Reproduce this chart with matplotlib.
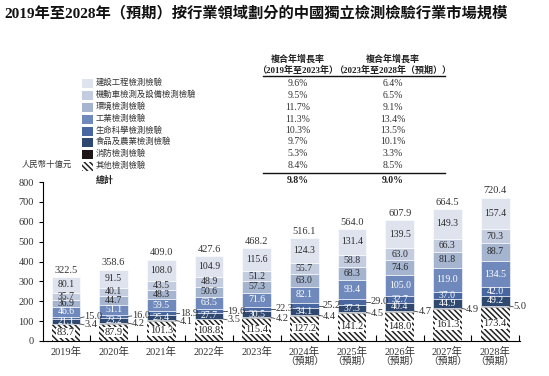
import matplotlib.pyplot as plt
from matplotlib.patches import Rectangle
from matplotlib.lines import Line2D
import numpy as np

plt.rcParams['font.family'] = ['Liberation Serif', 'Noto Sans CJK TC']
plt.rcParams['hatch.linewidth'] = 1.1

# données (milliards de RMB)
years = ['2019年', '2020年', '2021年', '2022年', '2023年',
         '2024年', '2025年', '2026年', '2027年', '2028年']
forecast = [False] * 5 + [True] * 5

other = [83.7, 87.9, 101.3, 108.8, 115.4, 127.2, 141.2, 148.0, 161.3, 173.4]
fire = [3.4, 4.2, 4.1, 3.5, 4.2, 4.4, 4.5, 4.7, 4.9, 5.0]
food = [21.1, 23.2, 25.4, 27.7, 30.5, 34.1, 37.3, 40.4, 44.9, 49.2]
life = [15.0, 16.0, 18.9, 19.6, 22.3, 25.2, 29.0, 32.7, 37.0, 42.0]
industry = [46.6, 51.1, 59.5, 63.5, 71.6, 82.1, 93.4, 105.0, 119.0, 134.5]
environment = [36.9, 44.7, 48.3, 50.6, 57.3, 63.0, 68.3, 74.6, 81.8, 88.7]
vehicle = [35.7, 40.1, 43.5, 48.9, 51.2, 55.7, 58.8, 63.0, 66.3, 70.3]
construction = [80.1, 91.5, 108.0, 104.9, 115.6, 124.3, 131.4, 139.5, 149.3, 157.4]
totals = [322.5, 358.6, 409.0, 427.6, 468.2, 516.1, 564.0, 607.9, 664.5, 720.4]

legend_names = ['建設工程檢測檢驗', '機動車檢測及設備檢測檢驗', '環境檢測檢驗', '工業檢測檢驗',
                '生命科學檢測檢驗', '食品及農業檢測檢驗', '消防檢測檢驗', '其他檢測檢驗']
cagr_hist = ['9.6%', '9.5%', '11.7%', '11.3%', '10.3%', '9.7%', '5.3%', '8.4%']
cagr_fore = ['6.4%', '6.5%', '9.1%', '13.4%', '13.5%', '10.1%', '3.3%', '8.5%']
cagr_total = ['9.8%', '9.0%']

# empilement du bas vers le haut
stack = [other, fire, food, life, industry, environment, vehicle, construction]
colors = ['white', '#1e1616', '#2e4870', '#4867a0', '#7089bd', '#a5b4cf', '#c4cde0', '#dee3ee']
text_col = ['#222222', None, 'white', 'white', 'white', '#2a2a2a', '#2a2a2a', '#2a2a2a']
HATCH = '\\' * 6

W, H = 549, 376
fig = plt.figure(figsize=(W / 100, H / 100), dpi=100)
ax = fig.add_axes([43 / W, 35 / H, 477 / W, 159 / H])

x = np.arange(len(years))
bw = 0.6
bottom = np.zeros(len(years))
inside = [[] for _ in years]   # (y, texte, couleur) des étiquettes intérieures
for k, vals in enumerate(stack):
    vals = np.array(vals)
    if k == 0:
        ax.bar(x, vals, bw, bottom=bottom, color='white', edgecolor='#222222',
               hatch=HATCH, linewidth=0)
    else:
        ax.bar(x, vals, bw, bottom=bottom, color=colors[k], edgecolor='white', linewidth=0.4)
    centers = bottom + vals / 2
    for i in range(len(years)):
        if k == 0:
            ax.text(x[i], centers[i], f'{vals[i]:.1f}', ha='center', va='center', fontsize=7.5,
                    color='#222222', bbox=dict(facecolor='white', edgecolor='none', pad=0.3))
        elif k == 1 or (k == 3 and i < 7):
            pass
        else:
            inside[i].append([centers[i], f'{vals[i]:.1f}', text_col[k]])
    bottom += vals

# écarter un peu les étiquettes trop serrées
gap = 40
for i in range(len(years)):
    labs = inside[i]
    for j in range(1, len(labs)):
        d = labs[j][0] - labs[j - 1][0]
        if d < gap:
            push = (gap - d) / 2
            labs[j][0] += push
            labs[j - 1][0] -= push
    for yv, s, c in labs:
        ax.text(x[i], yv, s, ha='center', va='center', fontsize=7.0, color=c)

# étiquettes extérieures (消防 et 生命科學)
for i in range(len(years)):
    c_fire = other[i] + fire[i] / 2
    y_fire = c_fire - 4
    xr = x[i] + bw / 2
    ax.plot([xr, xr + 0.08], [c_fire, y_fire], color='#444444', lw=0.6)
    ax.text(xr + 0.09, y_fire, f'{fire[i]:.1f}', ha='left', va='center', fontsize=7.5, color='#333333')
    if i < 7:
        c_life = other[i] + fire[i] + food[i] + life[i] / 2
        y_life = max(c_life, y_fire + 40)
        ax.plot([xr, xr + 0.08], [c_life, y_life], color='#444444', lw=0.6)
        ax.text(xr + 0.09, y_life, f'{life[i]:.1f}', ha='left', va='center', fontsize=7.5, color='#333333')

for i, t in enumerate(totals):
    ax.text(x[i], t + 12, f'{t:.1f}', ha='center', va='bottom', fontsize=7.5, color='#333333')

ax.set_xlim(-0.48, 9.52)
ax.set_ylim(0, 800)
ax.set_yticks(range(0, 801, 100))
ax.set_xticks(np.arange(0.5, 10, 1))
ax.set_xticklabels([])
ax.tick_params(axis='x', direction='in', length=4, width=0.8)
ax.tick_params(axis='y', direction='out', length=3, width=0.8, labelsize=7.5, labelcolor='#333333')
for s in ['top', 'right']:
    ax.spines[s].set_visible(False)
for s in ['left', 'bottom']:
    ax.spines[s].set_linewidth(0.8)

for i, y in enumerate(years):
    ax.text(x[i], -30, y, ha='center', va='top', fontsize=7.5, color='#333333')
    if forecast[i]:
        ax.text(x[i], -80, '（預期）', ha='center', va='top', fontsize=7, color='#333333')


def fx(px):
    return px / W


def fy(py):
    return 1 - py / H


fig.text(fx(4), fy(13), '2019年至2028年（預期）按行業領域劃分的中國獨立檢測檢驗行業市場規模',
         fontsize=11, fontweight='bold', ha='left', va='center', color='#111111')

fig.text(fx(22), fy(165), '人民幣十億元', fontsize=6, style='italic', ha='left', va='center', color='#333333')

# légende
rows = [83, 95, 107, 119, 131, 142, 154, 166]
for k, name in enumerate(legend_names):
    sk = 7 - k
    fc = colors[sk] if sk != 0 else 'white'
    r = Rectangle((fx(82), fy(rows[k] + 4.5)), 11 / W, 9 / H, transform=fig.transFigure,
                  facecolor=fc, edgecolor='#222222' if sk == 0 else 'none', linewidth=0,
                  hatch=HATCH if sk == 0 else None)
    fig.patches.append(r)
    fig.text(fx(96), fy(rows[k]), name, fontsize=6, ha='left', va='center', color='#333333')
    fig.text(fx(298), fy(rows[k]), cagr_hist[k], fontsize=7, ha='center', va='center', color='#333333')
    fig.text(fx(393), fy(rows[k]), cagr_fore[k], fontsize=7, ha='center', va='center', color='#333333')

fig.text(fx(96), fy(180), '總計', fontsize=6.5, fontweight='bold', ha='left', va='center', color='#222222')
fig.text(fx(298), fy(180), cagr_total[0], fontsize=7, fontweight='bold', ha='center', va='center', color='#222222')
fig.text(fx(393), fy(180), cagr_total[1], fontsize=7, fontweight='bold', ha='center', va='center', color='#222222')

fig.text(fx(298), fy(59), '複合年增長率', fontsize=6.5, fontweight='bold', ha='center', va='center', color='#222222')
fig.text(fx(298), fy(70), '（2019年至2023年）', fontsize=6.5, fontweight='bold', ha='center', va='center', color='#222222')
fig.text(fx(393), fy(59), '複合年增長率', fontsize=6.5, fontweight='bold', ha='center', va='center', color='#222222')
fig.text(fx(393), fy(70), '（2023年至2028年（預期））', fontsize=6.5, fontweight='bold', ha='center', va='center', color='#222222')

for yy in [76, 173]:
    fig.add_artist(Line2D([fx(263), fx(445)], [fy(yy), fy(yy)], color='#111111', lw=1.0,
                          transform=fig.transFigure))

fig.savefig('out.png', dpi=100)
